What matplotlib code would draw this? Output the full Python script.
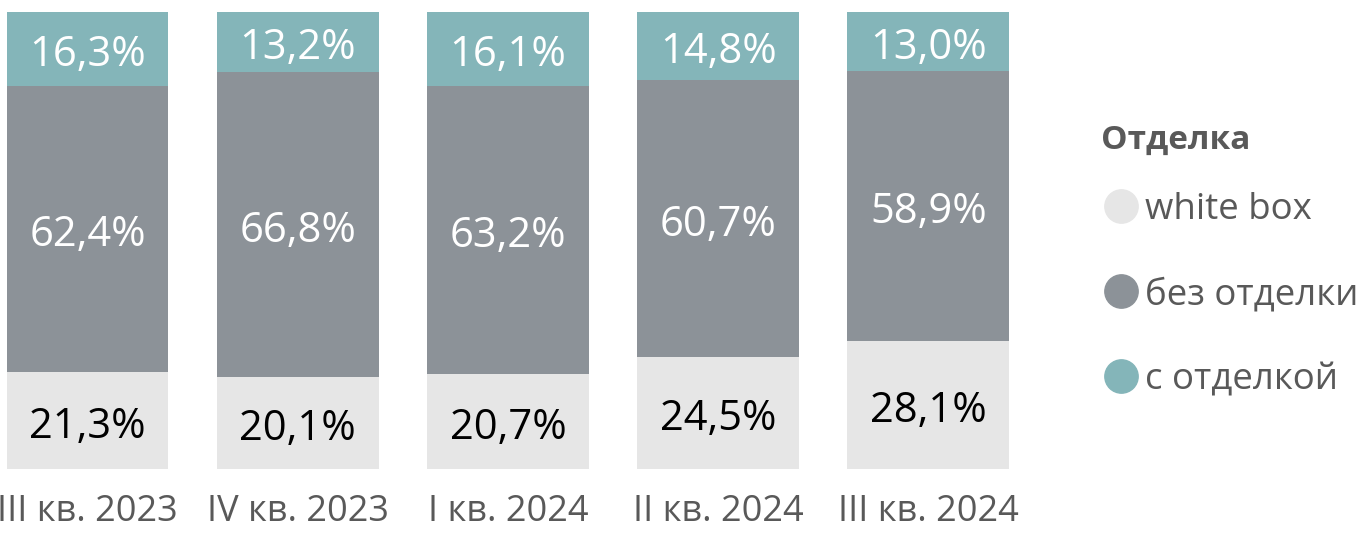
import matplotlib
matplotlib.use("Agg")
import matplotlib.pyplot as plt
from matplotlib.lines import Line2D

quarters = ["III кв. 2023", "IV кв. 2023", "I кв. 2024", "II кв. 2024", "III кв. 2024"]
white_box = [21.3, 20.1, 20.7, 24.5, 28.1]
no_finish = [62.4, 66.8, 63.2, 60.7, 58.9]
finished = [16.3, 13.2, 16.1, 14.8, 13.0]

series_names = ["white box", "без отделки", "с отделкой"]
colors = ["#E6E6E6", "#8C9298", "#84B5B9"]
label_colors = ["black", "white", "white"]
text_grey = "#595959"

plt.rcParams["font.family"] = ["Open Sans", "DejaVu Sans"]

fig = plt.figure(figsize=(13.63, 5.36), dpi=100)
ax = fig.add_axes([0, 67 / 536, 1, 457 / 536])

x = list(range(len(quarters)))
bottom = [0.0] * len(quarters)
for name, vals, col, lc in zip(series_names, [white_box, no_finish, finished], colors, label_colors):
    bars = ax.bar(x, vals, width=0.77, bottom=bottom, color=col, label=name)
    anns = ax.bar_label(bars, labels=[f"{v:.1f}%".replace(".", ",") for v in vals],
                        label_type="center", color=lc, fontsize=30)
    for a in anns:
        a.xyann = (0, -4.5)  # nudge down a bit, like the original
    bottom = [b + v for b, v in zip(bottom, vals)]

ax.set_xlim(-87.5 / 210.2, (1363 - 87.5) / 210.2)
ax.set_ylim(0, 100)
ax.set_xticks(x)
ax.set_xticklabels(quarters, fontsize=26, color=text_grey)
ax.tick_params(axis="x", length=0, pad=18)
ax.set_yticks([])
for s in ax.spines.values():
    s.set_visible(False)

fig.text(1101 / 1363, 1 - 140 / 536, "Отделка", fontsize=24, fontweight="bold",
         color=text_grey, ha="left", va="center")

handles = [Line2D([], [], linestyle="none", marker="o", markersize=24, color=c) for c in colors]
leg = fig.legend(handles, series_names, loc="upper left", bbox_to_anchor=(1075 / 1363, 1 - 159 / 536),
                 frameon=False, fontsize=26.4, handlelength=0.7, handletextpad=0.3, labelspacing=1.34)
for t in leg.get_texts():
    t.set_color(text_grey)

fig.savefig("out.png", dpi=100)
